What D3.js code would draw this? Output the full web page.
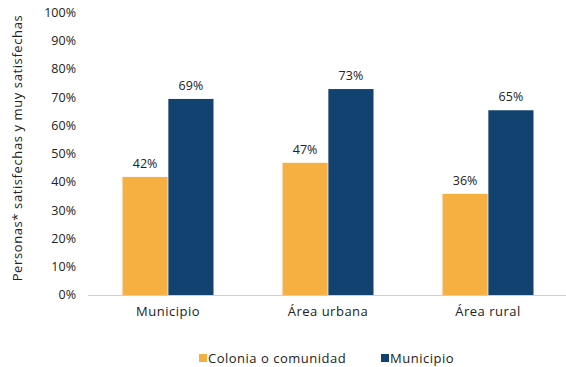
<!DOCTYPE html>
<html><head><meta charset="utf-8">
<script src="https://cdn.jsdelivr.net/npm/d3@7"></script>
<style>html,body{margin:0;padding:0;background:#fff;}svg{display:block;font-family:"Open Sans",sans-serif;}</style>
</head><body><svg id="c" width="566" height="367"></svg>
<script>
const categories = ["Municipio", "Área urbana", "Área rural"];
const seriesNames = ["Colonia o comunidad", "Municipio"];
const colonia = [41.8, 46.8, 35.8];
const municipio = [69.4, 72.9, 65.4];
const yTicks = [0,10,20,30,40,50,60,70,80,90,100];
const colors = ["#F5B041", "#12426F"];
const yTitle = "Personas* satisfechas y muy satisfechas";

const svg = d3.select("#c");
const x = d3.scaleBand().domain(categories).range([88, 568]).paddingInner(0).paddingOuter(0);
const xs = d3.scaleBand().domain(seriesNames).range([34.5, 125.5]).paddingInner(0.015).paddingOuter(0);
const y = d3.scaleLinear().domain([0, 100]).range([295, 12.5]);

// y tick labels
svg.append("g").selectAll("text").data(yTicks).join("text")
  .attr("x", 76).attr("y", d => y(d)).attr("dy", "0.35em")
  .attr("text-anchor", "end").attr("font-size", 12.5).attr("fill", "#222")
  .text(d => d + "%");

// axis line
svg.append("line").attr("x1", 88).attr("x2", 566).attr("y1", 295.5).attr("y2", 295.5)
  .attr("stroke", "#d0d0d0").attr("stroke-width", 1.2);

const data = [colonia, municipio];
data.forEach((vals, si) => {
  const g = svg.append("g");
  g.selectAll("rect").data(vals).join("rect")
    .attr("x", (d, i) => x(categories[i]) + xs(seriesNames[si]))
    .attr("width", xs.bandwidth())
    .attr("y", d => y(d))
    .attr("height", d => y(0) - y(d))
    .attr("fill", colors[si]);
  g.selectAll("text").data(vals).join("text")
    .attr("x", (d, i) => x(categories[i]) + xs(seriesNames[si]) + xs.bandwidth() / 2)
    .attr("y", d => y(d) - 9)
    .attr("text-anchor", "middle").attr("font-size", 12.5).attr("fill", "#222")
    .text(d => Math.round(d) + "%");
});

// x labels
svg.append("g").selectAll("text").data(categories).join("text")
  .attr("x", d => x(d) + x.bandwidth() / 2).attr("y", 316)
  .attr("text-anchor", "middle").attr("font-size", 13).attr("letter-spacing", 0.5).attr("fill", "#222")
  .text(d => d);

// y title
svg.append("text").attr("transform", "translate(22,148) rotate(-90)")
  .attr("text-anchor", "middle").attr("font-size", 13).attr("letter-spacing", 0.6).attr("fill", "#222")
  .text(yTitle);

// legend
const legX = [199, 381];
seriesNames.forEach((n, i) => {
  svg.append("rect").attr("x", legX[i]).attr("y", 354).attr("width", 8).attr("height", 8).attr("fill", colors[i]);
  svg.append("text").attr("x", legX[i] + 9).attr("y", 358).attr("dy", "0.35em")
    .attr("font-size", 13).attr("letter-spacing", 0.5).attr("fill", "#222").text(n);
});
</script></body></html>
